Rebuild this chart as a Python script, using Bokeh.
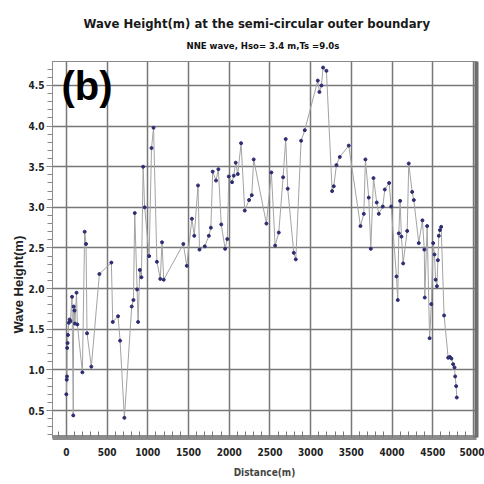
from bokeh.plotting import figure
from bokeh.models import Range1d, Title, Label, FixedTicker, LinearAxis, PrintfTickFormatter
from bokeh.embed import file_html
from bokeh.resources import INLINE

# Distance (m) along the semi-circular outer boundary
distance = [0, 5, 8, 10, 15, 20, 30, 40, 50, 70, 85, 90, 100, 105, 125, 135,
            197, 225, 242, 254, 307, 406, 553, 570, 635, 660, 713, 803, 824,
            840, 869, 881, 902, 922, 943, 962, 1017, 1046, 1071, 1112, 1154,
            1175, 1196, 1437, 1479, 1542, 1571, 1617, 1635, 1700, 1750, 1775,
            1797, 1838, 1867, 1902, 1950, 1977, 1995, 2035, 2056, 2080, 2105,
            2146, 2191, 2244, 2277, 2301, 2457, 2518, 2564, 2609, 2662, 2694,
            2719, 2793, 2818, 2883, 2928, 3088, 3108, 3133, 3153, 3194, 3264,
            3284, 3317, 3358, 3468, 3612, 3653, 3673, 3714, 3739, 3772, 3812,
            3837, 3886, 3911, 3964, 3989, 4054, 4070, 4083, 4099, 4115, 4136,
            4186, 4205, 4247, 4267, 4328, 4373, 4396, 4402, 4431, 4461, 4482,
            4505, 4521, 4535, 4551, 4563, 4574, 4588, 4603, 4639, 4689, 4709,
            4729, 4750, 4767, 4775, 4787, 4795]
# Wave height (m)
wave_height = [0.70, 0.88, 0.92, 1.27, 1.33, 1.43, 1.58, 1.62, 1.60, 1.90, 0.44,
               1.78, 1.73, 1.57, 1.95, 1.56, 0.97, 2.70, 2.55, 1.45, 1.04, 2.18,
               2.32, 1.59, 1.66, 1.36, 0.41, 1.78, 1.86, 2.93, 1.99, 1.59, 2.23,
               2.14, 3.50, 3.00, 2.40, 3.73, 3.98, 2.33, 2.12, 2.57, 2.11, 2.55,
               2.28, 2.86, 2.65, 3.27, 2.48, 2.52, 2.65, 2.75, 3.44, 3.33, 3.47,
               2.79, 2.49, 2.61, 3.38, 3.31, 3.39, 3.55, 3.41, 3.79, 2.96, 3.09,
               3.15, 3.59, 2.80, 3.43, 2.53, 2.69, 3.37, 3.84, 3.23, 2.44, 2.36,
               3.82, 3.95, 4.56, 4.42, 4.50, 4.72, 4.68, 3.20, 3.26, 3.52, 3.62,
               3.76, 2.77, 2.92, 3.59, 3.12, 2.49, 3.36, 3.06, 2.92, 3.01, 3.22,
               3.30, 3.01, 2.15, 1.86, 2.68, 3.08, 2.64, 2.31, 2.71, 3.54, 3.19,
               3.09, 2.56, 2.84, 2.48, 1.89, 2.77, 1.39, 1.81, 2.56, 2.42, 2.11,
               2.03, 2.35, 2.65, 2.72, 2.76, 1.67, 1.15, 1.16, 1.14, 1.07, 1.03,
               0.92, 0.80, 0.66]

x_ticks = [0, 500, 1000, 1500, 2000, 2500, 3000, 3500, 4000, 4500, 5000]
x_minor = list(range(-100, 5001, 100))
y_ticks = [0.5, 1.0, 1.5, 2.0, 2.5, 3.0, 3.5, 4.0, 4.5]
y_minor = [round(0.2 + 0.1 * i, 1) for i in range(46)]

title_text = "Wave Height(m) at the semi-circular outer boundary"
subtitle_text = "NNE wave, Hso= 3.4 m,Ts =9.0s"
y_label_text = "Wave Height(m)"
panel_tag = "(b)"

NARROW = "DejaVu Sans Condensed"

p = figure(width=484, height=484, output_backend="svg", toolbar_location=None,
           x_range=Range1d(-170, 5037), y_range=Range1d(0.168, 4.795),
           min_border_left=52, min_border_right=8, min_border_top=61,
           min_border_bottom=47, background_fill_color="white",
           border_fill_color="white")

p.outline_line_color = "#8a8a8a"
p.outline_line_width = 1

sub = Title(text=subtitle_text, align="left", text_font=NARROW,
            text_font_size="9.5px", text_font_style="bold", text_color="#111111",
            standoff=21, offset=134)
try:
    main = Title(text=title_text, align="left", text_font=NARROW,
                 text_font_size="13px", text_font_style="bold",
                 text_color="#1a1a1a", standoff=-6, offset=31)
except Exception:
    main = Title(text=title_text, align="left", text_font=NARROW,
                 text_font_size="13px", text_font_style="bold",
                 text_color="#1a1a1a", standoff=0, offset=31)
p.add_layout(sub, "above")
p.add_layout(main, "above")

p.line(distance, wave_height, line_color="#a3a3a3", line_width=1)
p.scatter(distance, wave_height, size=3, fill_color="#2d2d72",
          line_color="#2d2d72")

# x axis
xa = p.xaxis[0]
xa.ticker = FixedTicker(ticks=x_ticks, minor_ticks=x_minor)
xa.axis_line_color = "#8c8c8c"
xa.axis_line_width = 5
xa.major_tick_in = 8
xa.major_tick_out = 0
xa.minor_tick_in = 6
xa.minor_tick_out = 0
xa.major_tick_line_color = "#777777"
xa.minor_tick_line_color = "#777777"
xa.major_label_text_font = NARROW
xa.major_label_text_font_style = "bold"
xa.major_label_text_font_size = "10px"
xa.major_label_text_color = "#222222"
xa.major_label_standoff = 10
xa.axis_label = "Distance(m)"
xa.axis_label_text_font = NARROW
xa.axis_label_text_font_style = "bold"
xa.axis_label_text_font_size = "10px"
xa.axis_label_standoff = 8

# y axis
ya = p.yaxis[0]
ya.ticker = FixedTicker(ticks=y_ticks, minor_ticks=y_minor)
ya.formatter = PrintfTickFormatter(format="%.1f")
ya.axis_line_color = "#8c8c8c"
ya.axis_line_width = 1
ya.major_tick_in = 0
ya.major_tick_out = 6
ya.minor_tick_in = 0
ya.minor_tick_out = 5
ya.major_tick_line_color = "#777777"
ya.minor_tick_line_color = "#888888"
ya.major_label_text_font = NARROW
ya.major_label_text_font_style = "bold"
ya.major_label_text_font_size = "10px"
ya.major_label_text_color = "#222222"
ya.major_label_standoff = 2
ya.axis_label = None

ylab = Title(text=y_label_text, align="left", text_font="Liberation Sans",
             text_font_size="13px", text_font_style="bold", text_color="#222222",
             standoff=0, offset=104)
p.add_layout(ylab, "left")

# right thick border
ra = LinearAxis(ticker=FixedTicker(ticks=[]), major_label_text_font_size="0px",
                axis_line_color="#6e6e6e", axis_line_width=4,
                major_tick_line_color=None, minor_tick_line_color=None)
p.add_layout(ra, "right")

p.xgrid.grid_line_color = "#777777"
p.xgrid.grid_line_width = 1.5
p.ygrid.grid_line_color = "#777777"
p.ygrid.grid_line_width = 1.5

tag = Label(x=-60, y=4.76, text=panel_tag, text_font="Liberation Sans",
            text_font_size="40px", text_font_style="bold", text_color="#000000",
            text_baseline="top", text_align="left")
p.add_layout(tag)

open("out.html", "w").write(file_html(p, INLINE))
